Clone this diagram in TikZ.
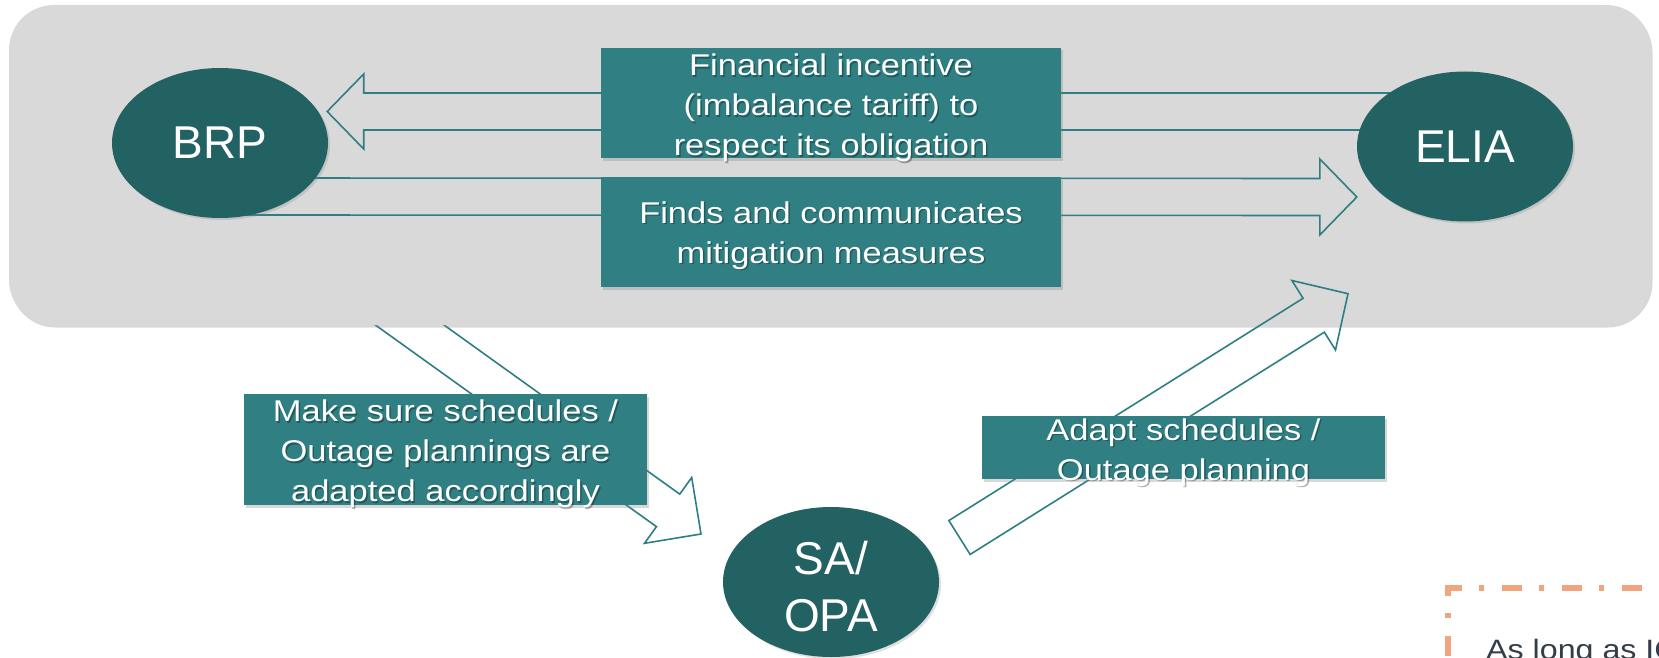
\documentclass[tikz,border=0pt]{standalone}
\usepackage{fontspec}
\setmainfont{Liberation Sans}
\newfontfamily\widesans{Liberation Sans}[FakeStretch=1.15]
\usetikzlibrary{calc,shadows,shapes.geometric}

\definecolor{panelgray}{HTML}{D9D9D9}
\definecolor{darkteal}{HTML}{236263}
\definecolor{boxteal}{HTML}{2F7F83}
\definecolor{arrowteal}{HTML}{2E7E83}
\definecolor{noteorange}{HTML}{F0A57E}
\definecolor{notetext}{HTML}{343E48}

\pgfdeclarelayer{deep}
\pgfdeclarelayer{panelayer}
\pgfdeclarelayer{links}
\pgfsetlayers{deep,panelayer,links,main}

% hollow block arrow: tail, tip, half shaft width, half head width, head length
\newcommand{\hollowarrow}[5]{%
  \coordinate (hb) at ($(#2)!#5!(#1)$);
  \draw[hollow] ($(#1)!#3!90:(#2)$) -- ($(hb)!#3!90:(#2)$) -- ($(hb)!#4!90:(#2)$)
    -- (#2) -- ($(hb)!#4!-90:(#2)$) -- ($(hb)!#3!-90:(#2)$) -- ($(#1)!#3!-90:(#2)$) -- cycle;
}

% white box caption with a soft dark shadow: name, anchor coordinate, text
\newcommand{\msgcaption}[3]{%
  \node[msgtext, text=black, opacity=.3] (#1Shade) at ($(#2)+(1.5,1.5)$) {#3};
  \node[msgtext, text=white] (#1) at (#2) {#3};
}

\begin{document}
\begin{tikzpicture}[x=1pt,y=-1pt,
  panel/.style={rectangle, fill=panelgray, rounded corners=45pt, minimum width=1642pt,
    minimum height=320pt, inner sep=0pt,
    drop shadow={shadow xshift=1.5pt, shadow yshift=-2.5pt, opacity=.3}},
  actor/.style={ellipse, fill=darkteal, text=white, minimum width=216pt, minimum height=150pt,
    inner sep=0pt, align=center, font=\fontsize{46}{57}\selectfont,
    drop shadow={shadow xshift=2pt, shadow yshift=-2pt, opacity=.25}},
  msgbox/.style={rectangle, fill=boxteal, inner sep=0pt,
    drop shadow={shadow xshift=2pt, shadow yshift=-2.5pt, opacity=.3}},
  msgtext/.style={inner sep=0pt, align=center, font=\widesans\fontsize{30}{40}\selectfont},
  hollow/.style={draw=arrowteal, line width=1.6pt, line join=miter},
  notedash/.style={draw=noteorange, line width=5.5pt,
    dash pattern=on 20pt off 17pt on 5pt off 18pt}
]
\useasboundingbox (0,0) rectangle (1659,658);

\begin{pgfonlayer}{deep}
  \fill[white] (0,0) rectangle (1659,658);
\end{pgfonlayer}

% grey panel holding BRP and ELIA
\begin{pgfonlayer}{panelayer}
  \node[panel] (panel) at (830,165) {};
\end{pgfonlayer}

% actors
\node[actor] (brp) at (220,143) {BRP};
\node[actor] (elia) at (1465,146.5) {ELIA};
\node[actor] (sa) at (831,582) {\rule{0pt}{42pt}SA/\\OPA};

% message boxes
\node[msgbox, minimum width=460pt, minimum height=110pt] (fin) at (831,103) {};
\node[msgbox, minimum width=460pt, minimum height=110pt] (finds) at (831,232) {};
\node[msgbox, minimum width=403pt, minimum height=111pt] (make) at (445.5,449.5) {};
\node[msgbox, minimum width=403pt, minimum height=63pt] (adapt) at (1183.5,447.5) {};

\coordinate (finAt) at ($(fin.center)+(0,5)$);
\coordinate (findsAt) at ($(finds.center)+(0,3.5)$);
\coordinate (makeAt) at ($(make.center)+(0,4.5)$);
\coordinate (adaptAt) at ($(adapt.center)+(0,5)$);
\msgcaption{finLabel}{finAt}{Financial incentive\\(imbalance tariff) to\\respect its obligation}
\msgcaption{findsLabel}{findsAt}{Finds and communicates\\mitigation measures}
\msgcaption{makeLabel}{makeAt}{Make sure schedules /\\Outage plannings are\\adapted accordingly}
\msgcaption{adaptLabel}{adaptAt}{Adapt schedules /\\Outage planning}

% arrow end points
\coordinate (finTail) at ($(elia.center)+(-20,-35)$);
\coordinate (finTip) at ($(brp.east)+(-1,-31.5)$);
\coordinate (findsTail) at ($(brp.center)+(20,53.5)$);
\coordinate (findsTip) at ($(elia.west)+(0,50.5)$);
\coordinate (makeTail) at ($(sa.center)+(-452,-279)$);
\coordinate (makeTip) at ($(sa.center)+(-130,-48)$);
\coordinate (adaptTail) at ($(sa.center)+(128.5,-44.5)$);
\coordinate (adaptTip) at ($(elia.south)+(-117,72)$);

% arrow from the panel down to SA/OPA, tucked under the panel
\begin{pgfonlayer}{deep}
  \hollowarrow{makeTail}{makeTip}{20pt}{40.5pt}{40.5pt}
\end{pgfonlayer}

\begin{pgfonlayer}{links}
  \hollowarrow{finTail}{finTip}{18.5pt}{37.5pt}{36.5pt}
  \hollowarrow{findsTail}{findsTip}{18.5pt}{38pt}{37pt}
  \hollowarrow{adaptTail}{adaptTip}{20pt}{41pt}{40.5pt}
\end{pgfonlayer}

% dashed note frame and its text
\coordinate (noteCorner) at (1448,588);
\draw[notedash, dash phase=3.5pt] ($(noteCorner)+(-2.75,0)$) -- ($(noteCorner)+(260,0)$);
\draw[notedash, dash phase=12pt] (noteCorner) -- ($(noteCorner)+(0,120)$);
\node[anchor=base west, inner sep=0pt, text=notetext, font=\widesans\fontsize{28}{34}\selectfont]
  (note) at (1486,659) {As long as IC};
\end{tikzpicture}
\end{document}
